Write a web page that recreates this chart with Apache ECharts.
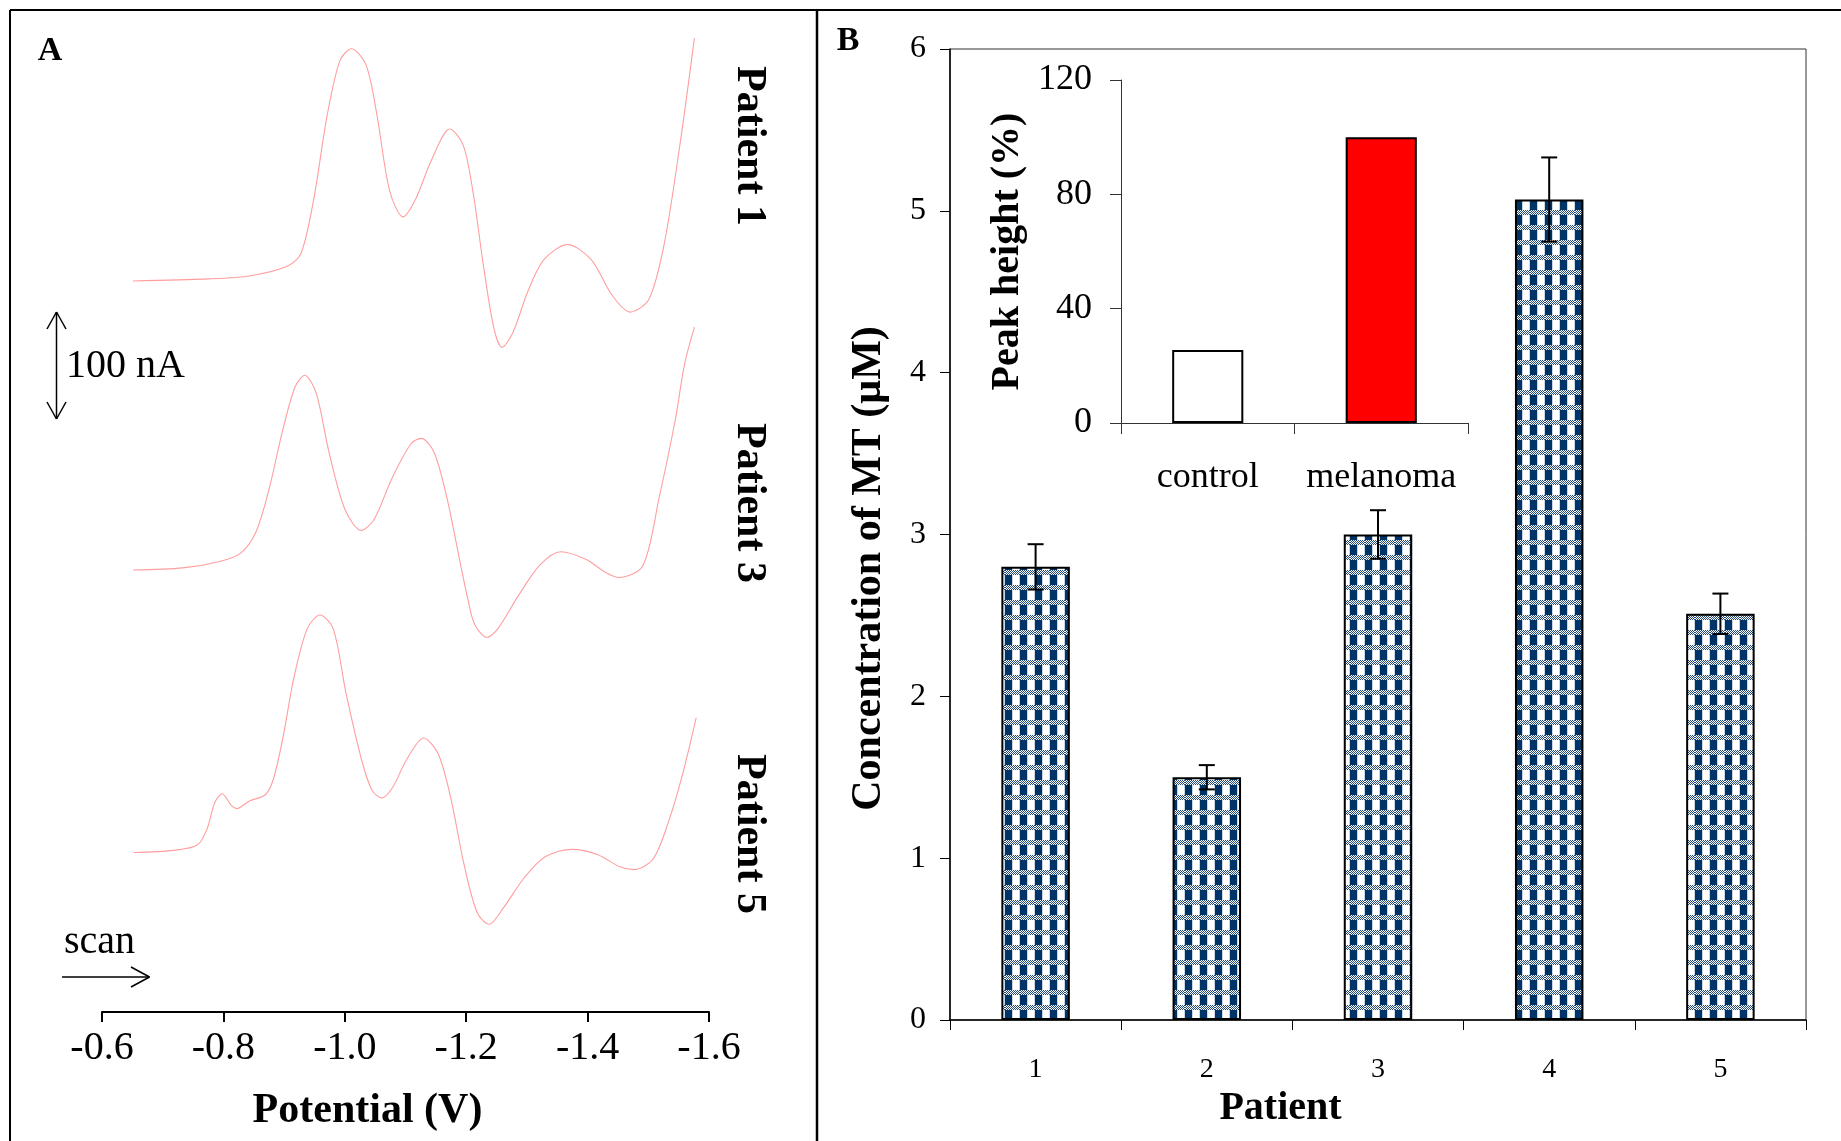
<!DOCTYPE html>
<html>
<head>
<meta charset="utf-8">
<script src="https://cdn.jsdelivr.net/npm/echarts@6/dist/echarts.min.js"></script>
<style>
html,body{margin:0;padding:0;background:#fff;}
#chart{width:1841px;height:1141px;}
</style>
</head>
<body>
<div id="chart"></div>
<script>
// ---- Panel A: voltammograms (potential in V, current offset in nA) ----
const p1Potential = [-0.651,-0.776,-0.845,-0.906,-0.928,-0.949,-0.971,-0.992,-1.011,-1.035,-1.053,-1.074,-1.096,-1.117,-1.142,-1.173,-1.195,-1.211,-1.229,-1.246,-1.259,-1.277,-1.302,-1.328,-1.367,-1.406,-1.440,-1.470,-1.501,-1.526,-1.552,-1.576];
const p1Current   = [683,685,688,697,709,760,838,889,900,885,838,767,743,760,795,825,810,767,695,638,621,635,674,703,717,703,670,654,666,717,810,910];
const p3Potential = [-0.651,-0.733,-0.794,-0.829,-0.854,-0.875,-0.897,-0.918,-0.934,-0.953,-0.974,-1.000,-1.027,-1.048,-1.078,-1.109,-1.126,-1.147,-1.168,-1.190,-1.203,-1.214,-1.234,-1.252,-1.287,-1.322,-1.356,-1.397,-1.429,-1.452,-1.491,-1.518,-1.544,-1.560,-1.576];
const p3Current   = [413,415,421,429,449,488,542,584,595,578,523,470,450,460,499,531,536,523,481,420,385,362,350,358,390,418,430,423,411,406,417,481,552,606,640];
const p5Potential = [-0.652,-0.717,-0.757,-0.773,-0.786,-0.798,-0.813,-0.822,-0.842,-0.869,-0.882,-0.898,-0.916,-0.938,-0.959,-0.981,-1.002,-1.028,-1.045,-1.061,-1.079,-1.101,-1.130,-1.154,-1.175,-1.196,-1.218,-1.238,-1.261,-1.295,-1.330,-1.374,-1.417,-1.452,-1.476,-1.508,-1.534,-1.556,-1.579];
const p5Current   = [149,151,156,171,196,204,193,190,197,203,217,256,312,358,371,358,298,235,207,200,210,235,256,241,199,139,93,82,97,125,145,152,147,136,133,143,179,221,275];
const potentialTicks = [-1.6, -0.6, 0.2]; // min, max, interval

// ---- Panel B: MT concentration per patient ----
const patients = ['1','2','3','4','5'];
const mtConc   = [2.80, 1.50, 3.00, 5.07, 2.51];
const mtErr    = [0.14, 0.075, 0.15, 0.26, 0.125];

// ---- Panel B inset ----
const insetCats  = ['control','melanoma'];
const peakHeight = [25.5, 100];

const SERIF = "'Liberation Serif','Times New Roman',serif";

function makePattern(){
  const c = document.createElement('canvas');
  c.width = 15; c.height = 15;
  const g = c.getContext('2d');
  g.fillStyle = '#ffffff'; g.fillRect(0,0,15,15);
  g.fillStyle = '#21497a';
  for (let y=0;y<5;y++) for (let x=0;x<15;x++) if ((x+y)%2===0) g.fillRect(x,y,1,1);
  g.fillStyle = '#003366';
  g.fillRect(0,5,7,10);
  g.fillStyle = '#c8d5e5';
  g.fillRect(7,5,1,10); g.fillRect(14,5,1,10);
  return c;
}
const pattern = {image: makePattern(), repeat: 'repeat'};

const toPairs = (xs, ys) => xs.map((x,i)=>[x, ys[i]]);

const curveStyle = {color:'#ff9e9e', width:1.1};

const chart = echarts.init(document.getElementById('chart'), null, {renderer:'canvas'});

function rotText(x, y, text, size){
  return {type:'text', x:x, y:y, rotation:-Math.PI/2, silent:true,
    style:{text:text, x:0, y:0, align:'center', verticalAlign:'middle',
      font:'bold '+size+'px '+SERIF, fill:'#000'}};
}
function plainText(x, y, text, size, bold, align){
  return {type:'text', x:x, y:y, silent:true,
    style:{text:text, x:0, y:0, align:align||'left', verticalAlign:'middle',
      font:(bold?'bold ':'')+size+'px '+SERIF, fill:'#000'}};
}
function seg(x1,y1,x2,y2,w){
  return {type:'line', silent:true, shape:{x1:x1,y1:y1,x2:x2,y2:y2}, style:{stroke:'#000', lineWidth:w||1.5}};
}

const option = {
  animation: false,
  backgroundColor: '#ffffff',
  grid: [
    {left:102, top:6, width:607, height:1006},
    {left:950, top:49, width:856, height:971, show:true, borderColor:'#333', borderWidth:1, backgroundColor:'transparent'},
    {left:1121, top:80, width:347, height:343}
  ],
  xAxis: [
    {type:'value', gridIndex:0, min:potentialTicks[0], max:potentialTicks[1], interval:potentialTicks[2], inverse:true,
     name:'Potential (V)', nameLocation:'middle', nameGap:78,
     nameTextStyle:{fontFamily:SERIF, fontWeight:'bold', fontSize:42, color:'#000', padding:[0,76,0,0]},
     axisLine:{show:true, lineStyle:{color:'#000', width:2}},
     axisTick:{show:true, length:10, lineStyle:{color:'#000', width:2}},
     axisLabel:{fontFamily:SERIF, fontSize:40, color:'#000', margin:16, formatter:v=>Number(v).toFixed(1)},
     splitLine:{show:false}},
    {type:'category', gridIndex:1, data:patients,
     name:'Patient', nameLocation:'middle', nameGap:68,
     nameTextStyle:{fontFamily:SERIF, fontWeight:'bold', fontSize:40, color:'#000', padding:[0,195,0,0]},
     axisLine:{lineStyle:{color:'#000', width:1.5}},
     axisTick:{show:true, length:10, alignWithLabel:false, lineStyle:{color:'#000', width:1}},
     axisLabel:{fontFamily:SERIF, fontSize:28, color:'#000', margin:36, interval:0}},
    {type:'category', gridIndex:2, data:insetCats,
     axisLine:{lineStyle:{color:'#333', width:1}},
     axisTick:{show:true, length:11, lineStyle:{color:'#333', width:1}},
     axisLabel:{fontFamily:SERIF, fontSize:36, color:'#000', margin:37, interval:0, hideOverlap:false}}
  ],
  yAxis: [
    {type:'value', gridIndex:0, min:0, max:940, show:false, splitLine:{show:false}},
    {type:'value', gridIndex:1, min:0, max:6, interval:1,
     name:'Concentration of MT (μM)', nameLocation:'middle', nameGap:60,
     nameTextStyle:{fontFamily:SERIF, fontWeight:'bold', fontSize:42, color:'#000', padding:[0,68,0,0]},
     axisLine:{show:true, lineStyle:{color:'#000', width:1.5}},
     axisTick:{show:true, length:10, lineStyle:{color:'#000', width:1}},
     axisLabel:{fontFamily:SERIF, fontSize:32, color:'#000', margin:24},
     splitLine:{show:false}},
    {type:'value', gridIndex:2, min:0, max:120, interval:40,
     name:'Peak height (%)', nameLocation:'middle', nameGap:93,
     nameTextStyle:{fontFamily:SERIF, fontWeight:'bold', fontSize:40, color:'#000'},
     axisLine:{show:true, lineStyle:{color:'#333', width:1}},
     axisTick:{show:true, length:11, lineStyle:{color:'#333', width:1}},
     axisLabel:{fontFamily:SERIF, fontSize:36, color:'#000', margin:29},
     splitLine:{show:false}}
  ],
  series: [
    {name:'Patient 1', type:'line', xAxisIndex:0, yAxisIndex:0, data:toPairs(p1Potential,p1Current),
     showSymbol:false, smooth:0.3, lineStyle:curveStyle, itemStyle:{color:'#ff9e9e'}},
    {name:'Patient 3', type:'line', xAxisIndex:0, yAxisIndex:0, data:toPairs(p3Potential,p3Current),
     showSymbol:false, smooth:0.3, lineStyle:curveStyle, itemStyle:{color:'#ff9e9e'}},
    {name:'Patient 5', type:'line', xAxisIndex:0, yAxisIndex:0, data:toPairs(p5Potential,p5Current),
     showSymbol:false, smooth:0.3, lineStyle:curveStyle, itemStyle:{color:'#ff9e9e'}},
    {name:'MT', type:'bar', xAxisIndex:1, yAxisIndex:1, data:mtConc, barWidth:'40%',
     itemStyle:{color:pattern, borderColor:'#000', borderWidth:2}},
    {name:'MT error', type:'custom', xAxisIndex:1, yAxisIndex:1, z:5,
     data:patients.map((p,i)=>[i, mtConc[i], mtErr[i]]),
     encode:{x:0, y:1},
     renderItem:function(params, api){
       const i = api.value(0), v = api.value(1), e = api.value(2);
       const top = api.coord([i, v+e]), bot = api.coord([i, v-e]);
       const hw = 8, st = {stroke:'#000', lineWidth:2};
       return {type:'group', children:[
         {type:'line', shape:{x1:top[0],y1:top[1],x2:bot[0],y2:bot[1]}, style:st},
         {type:'line', shape:{x1:top[0]-hw,y1:top[1],x2:top[0]+hw,y2:top[1]}, style:st},
         {type:'line', shape:{x1:bot[0]-hw,y1:bot[1],x2:bot[0]+hw,y2:bot[1]}, style:st}
       ]};
     }},
    {name:'Peak height', type:'bar', xAxisIndex:2, yAxisIndex:2, barWidth:'41%',
     data:peakHeight.map((v,i)=>({value:v, itemStyle:{color: i===0 ? '#ffffff' : '#ff0000'}})),
     itemStyle:{borderColor:'#000', borderWidth:2}}
  ],
  graphic: [
    seg(10,10,1841,10,2),
    seg(10,10,10,1141,2),
    seg(817,10,817,1141,2.5),
    plainText(50,51,'A',34,true,'center'),
    plainText(848,41,'B',34,true,'center'),
    rotText(749,146,'Patient 1',42),
    rotText(749,503,'Patient 3',42),
    rotText(749,834,'Patient 5',42),
    // 100 nA scale bar
    seg(56.5,312,56.5,419,1.5),
    seg(56.5,312,47,329,1.5), seg(56.5,312,66,329,1.5),
    seg(56.5,419,47,402,1.5), seg(56.5,419,66,402,1.5),
    plainText(66,366,'100 nA',40,false,'left'),
    // scan arrow
    plainText(64,942,'scan',40,false,'left'),
    seg(62,977,149.5,977,1.5),
    seg(149.5,977,131,967,1.5), seg(149.5,977,131,987,1.5)
  ]
};
chart.setOption(option);
</script>
</body>
</html>
